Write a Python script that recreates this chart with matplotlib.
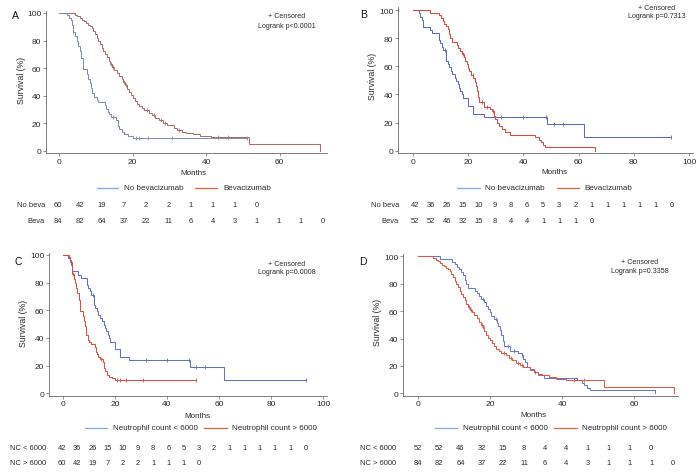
import matplotlib
matplotlib.use('Agg')
import matplotlib.pyplot as plt
from matplotlib.lines import Line2D
import matplotlib.transforms as mtransforms

plt.rcParams['font.family'] = ['Liberation Sans', 'DejaVu Sans']

W, H = 700, 477

# ---------------- data ----------------
# Kaplan-Meier step curves: event times (months) and survival (%) after each step
k60_t = [0, 2.3, 2.8, 3.2, 3.5, 3.7, 4.3, 4.8, 5.2, 5.6, 6.1, 6.6, 7.6, 8.0, 8.4, 8.8, 9.1, 9.6,
         10.2, 10.7, 12.4, 12.9, 13.3, 13.7, 14.2, 15.4, 15.9, 16.4, 17.0, 17.6, 18.8, 20.1]
k60_s = [100, 98.3, 96.6, 94.9, 91.5, 86.4, 83.0, 79.6, 76.2, 72.8, 67.7, 59.2, 55.8, 52.4, 49.0,
         45.6, 42.2, 38.8, 37.1, 35.4, 33.6, 30.1, 28.4, 26.6, 24.8, 22.6, 18.1, 15.8, 13.5, 12.0,
         10.9, 9.6]
k60_cens = [3.9, 14.8, 21.0, 21.8, 24.2, 30.8]
k60_end = 51.2

k84_t = [0, 4.3, 5.0, 5.7, 6.2, 6.7, 7.3, 7.9, 8.4, 8.9, 9.3, 9.8, 10.2, 10.7, 11.2, 11.6, 12.0,
         12.5, 13.0, 13.5, 13.9, 14.5, 15.0, 15.7, 16.3, 17.0, 17.5, 18.0, 18.5, 19.0, 19.5, 20.0,
         20.6, 21.2, 21.8, 22.5, 23.2, 24.5, 25.3, 26.2, 27.2, 28.2, 29.3, 31.2, 32.2, 33.3, 34.5,
         36.5, 38.3, 41.2, 51.6, 71.0]
k84_s = [100, 98.8, 97.6, 96.4, 95.2, 94.0, 92.8, 91.6, 90.4, 89.2, 87.0, 84.6, 82.2, 79.8, 77.4,
         75.0, 72.6, 70.2, 67.8, 65.4, 63.0, 61.0, 59.0, 56.8, 54.6, 52.3, 50.0, 47.6, 45.2, 42.8,
         40.4, 38.6, 36.5, 34.4, 32.5, 30.8, 29.5, 27.8, 26.0, 24.2, 22.3, 20.5, 19.0, 17.0, 15.2,
         14.0, 13.0, 12.0, 10.8, 9.8, 4.9, 0]
k84_cens = [14.2, 14.7, 17.7, 18.3, 24.0, 25.8, 27.8, 28.8, 32.6, 43.3, 46.0]
k84_end = 71.0

k42_t = [0, 2.0, 2.7, 3.3, 3.7, 6.0, 6.9, 9.4, 9.9, 10.5, 11.0, 12.0, 12.5, 13.2, 13.7, 14.2,
         15.2, 15.7, 16.2, 16.6, 17.2, 17.7, 18.2, 20.0, 21.9, 25.6, 48.7, 61.8]
k42_s = [100, 97.6, 95.2, 92.9, 88.1, 85.7, 83.3, 78.6, 76.2, 73.8, 71.4, 64.0, 61.6, 59.2, 56.8,
         54.4, 52.0, 49.6, 47.2, 44.8, 42.4, 40.0, 37.4, 32.0, 26.4, 23.8, 19.0, 9.5]
k42_cens = [11.6, 32.0, 40.0, 48.3, 51.0, 54.5]
k42_end = 93.5

k52_t = [0, 6.3, 9.6, 10.2, 10.8, 11.4, 12.0, 12.5, 13.0, 13.5, 14.0, 15.8, 16.3, 16.9, 17.6,
         18.5, 18.9, 19.4, 19.9, 20.4, 21.1, 21.9, 22.3, 22.7, 23.1, 23.5, 24.0, 25.6, 27.8, 28.8,
         29.3, 29.8, 30.4, 31.2, 32.3, 33.3, 35.0, 44.2, 45.5, 46.2, 47.0, 47.8, 65.8]
k52_s = [100, 98.1, 96.2, 94.2, 92.3, 90.4, 88.5, 86.5, 83.0, 80.0, 77.0, 75.0, 73.0, 71.0, 68.8,
         66.5, 64.0, 61.5, 59.0, 56.5, 54.0, 51.5, 49.0, 46.0, 42.5, 38.5, 34.5, 31.0, 29.7, 28.0,
         25.0, 22.5, 19.5, 17.5, 15.5, 13.5, 11.3, 9.5, 7.8, 6.0, 4.2, 2.5, 0]
k52_cens = [18.0, 21.8, 25.0, 26.7, 29.0]
k52_end = 65.8

# numbers at risk
risk_60 = [60, 42, 19, 7, 2, 2, 1, 1, 1, 0]
risk_84 = [84, 82, 64, 37, 22, 11, 6, 4, 3, 1, 1, 1, 0]
risk_42 = [42, 36, 26, 15, 10, 9, 8, 6, 5, 3, 2, 1, 1, 1, 1, 1, 0]
risk_52 = [52, 52, 46, 32, 15, 8, 4, 4, 1, 1, 1, 0]

pvals = ["Logrank p<0.0001", "Logrank p=0.7313", "Logrank p=0.0008", "Logrank p=0.3358"]
legend_ab = ["No bevacizumab", "Bevacizumab"]
legend_cd = ["Neutrophil count < 6000", "Neutrophil count > 6000"]
rows_ab = ["No beva", "Beva"]
rows_cd = ["NC < 6000", "NC > 6000"]
xticks_a = [0, 20, 40, 60]
xticks_b = [0, 20, 40, 60, 80, 100]
yticks = [0, 20, 40, 60, 80, 100]

curves = {
    'k60': (k60_t, k60_s, k60_cens, k60_end),
    'k84': (k84_t, k84_s, k84_cens, k84_end),
    'k42': (k42_t, k42_s, k42_cens, k42_end),
    'k52': (k52_t, k52_s, k52_cens, k52_end),
}

# ---------------- drawing ----------------
fig = plt.figure(figsize=(W / 100, H / 100), dpi=100)
TXT = '#2a2a2a'
AXC = '#6a6a6a'


def fy(y):
    return 1 - y / H


def surv_at(t, s, x):
    v = s[0]
    for ti, si in zip(t, s):
        if ti <= x:
            v = si
    return v


def make_ax(x0, y0, x1, y1, p0, kx, py0, ky, xticks):
    ax = fig.add_axes([x0 / W, 1 - y1 / H, (x1 - x0) / W, (y1 - y0) / H])
    ax.set_xlim((x0 - p0) / kx, (x1 - p0) / kx)
    ax.set_ylim((py0 - y1) / ky, (py0 - y0) / ky)
    for sp in ['top', 'right']:
        ax.spines[sp].set_visible(False)
    for sp in ['left', 'bottom']:
        ax.spines[sp].set_color(AXC)
        ax.spines[sp].set_linewidth(0.6)
    ax.set_xticks(xticks)
    ax.set_yticks(yticks)
    ax.tick_params(direction='out', length=2, width=0.5, color=AXC,
                   labelsize=6, labelcolor=TXT, pad=1.5)
    ax.patch.set_alpha(0)
    return ax


def draw_curve(ax, key, color):
    t, s, cens, end = curves[key]
    xs = list(t) + [end]
    ys = list(s) + [s[-1]]
    ax.step(xs, ys, where='post', color=color, lw=0.75, solid_joinstyle='miter')
    cx = list(cens) + ([end] if end > t[-1] else [])
    cy = [surv_at(t, s, c) for c in cx]
    ax.plot(cx, cy, ls='none', marker='|', ms=3, mew=0.6, color=color)


def legend(y, items, segs, txt_x, colors):
    for (xa, xb), tx, lab, c in zip(segs, txt_x, items, colors):
        fig.add_artist(Line2D([xa / W, xb / W], [fy(y), fy(y)], color=c, lw=0.9))
        fig.text(tx / W, fy(y), lab, ha='left', va='center', fontsize=5.8, color=TXT)


def table(ax, rows, risks, ys, lab_x, lab_ha, t0, step):
    trans = mtransforms.blended_transform_factory(ax.transData, fig.transFigure)
    for lab, risk, y in zip(rows, risks, ys):
        fig.text(lab_x / W, fy(y), lab, ha=lab_ha, va='center', fontsize=5.4, color=TXT)
        for i, v in enumerate(risk):
            ax.text(t0 + i * step, fy(y), str(v), transform=trans, ha='center',
                    va='center', fontsize=5.4, color=TXT)


LEG_BLUE = '#7eaadf'
LEG_ORANGE = '#d8683c'

# ---- Panel A ----
axA = make_ax(46, 12, 327, 154, 59, 3.68, 152, 1.38, xticks_a)
draw_curve(axA, 'k84', '#a5716c')
draw_curve(axA, 'k60', '#8390aa')
fig.text(15 / W, fy(16), 'A', fontsize=7.5, ha='center', va='center', color='#111')
fig.text(21 / W, fy(80), 'Survival (%)', rotation=90, fontsize=6.3, ha='center', va='center', color=TXT)
fig.text(287 / W, fy(17), '+ Censored', fontsize=5.1, ha='center', va='center', color=TXT)
fig.text(287 / W, fy(26), pvals[0], fontsize=5.1, ha='center', va='center', color=TXT)
fig.text(193 / W, fy(174), 'Months', fontsize=5.8, ha='center', va='center', color=TXT)
legend(189, legend_ab, [(97, 118), (195, 217)], [124, 223], [LEG_BLUE, LEG_ORANGE])
table(axA, rows_ab, [risk_60, risk_84], [206, 222], 45, 'right', -0.3, 6.0)

# ---- Panel B ----
axB = make_ax(398, 8, 693, 154, 413, 2.76, 151.7, 1.407, xticks_b)
draw_curve(axB, 'k42', '#5d6db5')
draw_curve(axB, 'k52', '#d8483f')
fig.text(364 / W, fy(15), 'B', fontsize=7.5, ha='center', va='center', color='#111')
fig.text(373 / W, fy(76), 'Survival (%)', rotation=90, fontsize=6.3, ha='center', va='center', color=TXT)
fig.text(657 / W, fy(8), '+ Censored', fontsize=5.1, ha='center', va='center', color=TXT)
fig.text(657 / W, fy(16), pvals[1], fontsize=5.1, ha='center', va='center', color=TXT)
fig.text(554 / W, fy(173), 'Months', fontsize=5.8, ha='center', va='center', color=TXT)
legend(189, legend_ab, [(457, 480), (557, 579)], [485, 584], [LEG_BLUE, LEG_ORANGE])
table(axB, rows_ab, [risk_42, risk_52], [206, 222], 399, 'right', 0.7, 5.81)

# ---- Panel C ----
axC = make_ax(49, 254, 327, 396.5, 62.7, 2.606, 394.3, 1.383, xticks_b)
draw_curve(axC, 'k42', '#6373b8')
draw_curve(axC, 'k60', '#d9503f')
fig.text(18 / W, fy(262), 'C', fontsize=7.5, ha='center', va='center', color='#111')
fig.text(23 / W, fy(323), 'Survival (%)', rotation=90, fontsize=6.3, ha='center', va='center', color=TXT)
fig.text(287 / W, fy(265), '+ Censored', fontsize=5.1, ha='center', va='center', color=TXT)
fig.text(287 / W, fy(273), pvals[2], fontsize=5.1, ha='center', va='center', color=TXT)
fig.text(197 / W, fy(417), 'Months', fontsize=5.8, ha='center', va='center', color=TXT)
legend(429, legend_cd, [(85, 107), (204, 227)], [113, 232], [LEG_BLUE, LEG_ORANGE])
table(axC, rows_cd, [risk_42, risk_60], [448, 464], 10, 'left', -0.3, 5.84)

# ---- Panel D ----
axD = make_ax(403, 255, 678, 396.5, 417.7, 3.61, 394.3, 1.37, xticks_a)
draw_curve(axD, 'k52', '#6a7bc6')
draw_curve(axD, 'k84', '#dc5848')
fig.text(363 / W, fy(262), 'D', fontsize=7.5, ha='center', va='center', color='#111')
fig.text(378 / W, fy(322), 'Survival (%)', rotation=90, fontsize=6.3, ha='center', va='center', color=TXT)
fig.text(640 / W, fy(263), '+ Censored', fontsize=5.1, ha='center', va='center', color=TXT)
fig.text(640 / W, fy(272), pvals[3], fontsize=5.1, ha='center', va='center', color=TXT)
fig.text(533 / W, fy(416), 'Months', fontsize=5.8, ha='center', va='center', color=TXT)
legend(429, legend_cd, [(435, 457), (554, 577)], [463, 582], [LEG_BLUE, LEG_ORANGE])
table(axD, rows_cd, [risk_52, risk_84], [448, 464], 360, 'left', 0.1, 5.87)

fig.savefig('out.png', dpi=100)
